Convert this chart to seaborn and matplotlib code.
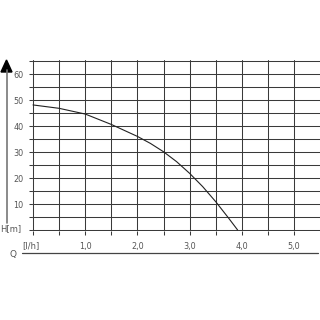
import matplotlib
matplotlib.use("Agg")
import matplotlib.pyplot as plt
from matplotlib.lines import Line2D
from matplotlib.patches import Polygon
import seaborn as sns
import pandas as pd

sns.set_style("white")
plt.rcParams['font.family'] = ['DejaVu Sans']

# data
flow_q = [0, 0.5, 1.0, 1.5, 2.0, 2.25, 2.5, 2.75, 3.0, 3.25, 3.5, 3.75, 3.92]
head_h = [48.1, 46.8, 44.6, 40.6, 36.0, 33.3, 30.1, 26.3, 21.8, 16.7, 10.9, 4.5, 0]
x_ticks = [0, 0.5, 1.0, 1.5, 2.0, 2.5, 3.0, 3.5, 4.0, 4.5, 5.0]
x_labels = ["", "", "1,0", "", "2,0", "", "3,0", "", "4,0", "", "5,0"]
y_ticks = [0, 5, 10, 15, 20, 25, 30, 35, 40, 45, 50, 55, 60, 65]
y_labels = ["", "", "10", "", "20", "", "30", "", "40", "", "50", "", "60", ""]

W = H = 320
ppu_x = 52.2   # pixels per Q unit
ppu_y = 2.6    # pixels per H unit
x0_px, y0_px = 33, 230
xmin, xmax = -0.02, 5.5
ymin, ymax = -0.4, 65.4

left = x0_px + xmin * ppu_x
right = x0_px + xmax * ppu_x
bottom = y0_px - ymin * ppu_y
top = y0_px - ymax * ppu_y

fig = plt.figure(figsize=(3.2, 3.2), dpi=100)
ax = fig.add_axes([left / W, (H - bottom) / H, (right - left) / W, (bottom - top) / H])

df = pd.DataFrame({"Q": flow_q, "H": head_h})
sns.lineplot(data=df, x="Q", y="H", ax=ax, color="#222222", linewidth=0.8)

ax.set_xlim(xmin, xmax)
ax.set_ylim(ymin, ymax)
ax.set_xticks(x_ticks)
ax.set_xticklabels(x_labels)
ax.set_yticks(y_ticks)
ax.set_yticklabels(y_labels)
ax.set_xlabel("")
ax.set_ylabel("")
for s in ax.spines.values():
    s.set_visible(False)
ax.grid(True, color="#3a3a3a", linewidth=0.75)
ax.set_axisbelow(True)
ax.tick_params(axis="x", length=3, width=0.75, color="#3a3a3a", pad=5,
               labelsize=6.5, labelcolor="#555555", direction="out", bottom=True)
ax.tick_params(axis="y", length=2, width=0.75, color="#3a3a3a", pad=4,
               labelsize=6.5, labelcolor="#555555", direction="out", left=True)
for lab in ax.get_xticklabels() + ax.get_yticklabels():
    lab.set_fontstretch("condensed")

# annotations in figure pixel coordinates
def fx(px):
    return px / W

def fy(py):
    return (H - py) / H

fig.text(fx(22), fy(246), "[l/h]", fontsize=6, color="#555555", ha="left", va="center")
fig.text(fx(0), fy(229), "H[m]", fontsize=6, color="#555555", ha="left", va="center")
fig.text(fx(13), fy(254), "Q", fontsize=6.5, color="#555555", ha="center", va="center")

fig.add_artist(Line2D([fx(22), fx(318)], [fy(253), fy(253)], color="#444444", linewidth=0.9))
fig.add_artist(Line2D([fx(6.5), fx(6.5)], [fy(70), fy(223)], color="#777777", linewidth=1.2))
fig.add_artist(Polygon([[fx(1), fy(72)], [fx(12), fy(72)], [fx(6.5), fy(60)]],
                       closed=True, facecolor="black", edgecolor="black",
                       transform=fig.transFigure))

fig.savefig("out.png", dpi=100)
